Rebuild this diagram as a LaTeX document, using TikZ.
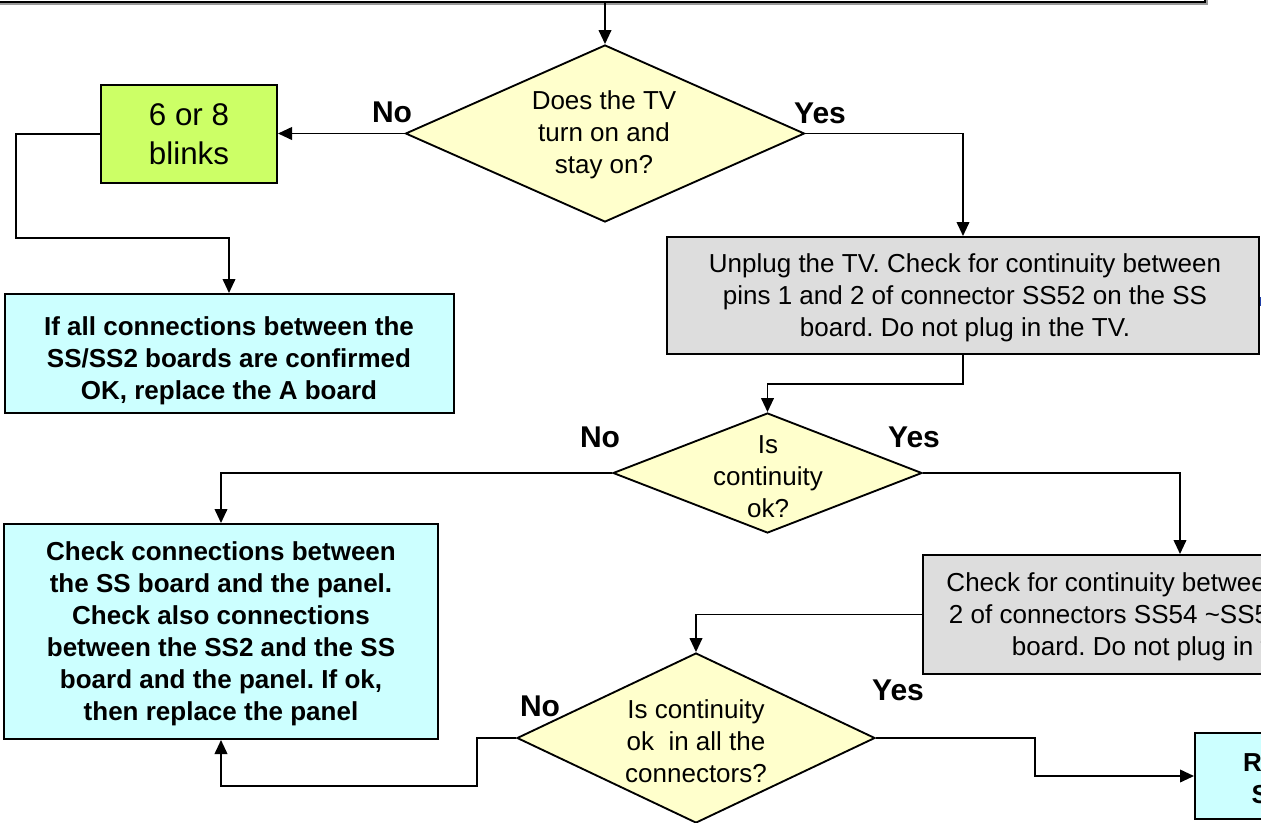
\documentclass[tikz,border=0pt]{standalone}
\usepackage{fontspec}
\setmainfont{Liberation Sans}
\usetikzlibrary{arrows.meta,shapes.geometric,calc}
\definecolor{dyellow}{HTML}{FFFFCC}
\definecolor{bgreen}{HTML}{CCFF66}
\definecolor{lblue}{HTML}{CCFFFF}
\definecolor{lgray}{HTML}{DDDDDD}
\definecolor{shgray}{HTML}{999999}
\definecolor{markblue}{HTML}{1F3FA8}
\frenchspacing
\begin{document}
\begin{tikzpicture}[x=0.75pt,y=-0.75pt,
  box/.style={draw=black, line width=1.5pt, inner sep=0pt, align=center,
              font=\fontsize{19.5}{24}\selectfont},
  boxb/.style={box, font=\fontsize{19.5}{24}\selectfont\bfseries},
  dia/.style={diamond, draw=black, line width=1.4pt, fill=dyellow, inner sep=0pt},
  txt/.style={align=center, inner sep=0pt, font=\fontsize{19.5}{24}\selectfont},
  lbl/.style={inner sep=0pt, font=\fontsize{22.5}{27}\selectfont\bfseries},
  conn/.style={line width=1.3pt},
  arr/.style={conn, -{Triangle[length=10.5pt,width=9.5pt]}}]
\useasboundingbox (0,0) rectangle (1261,822);
\clip (0,0) rectangle (1261,822);
\fill[white] (0,0) rectangle (1261,822);

% top box (cut off by the frame)
\fill[shgray] (-8,-58) rectangle (1207.5,4.5);
\node[box, fill=white, minimum width=1215*0.75pt, minimum height=62*0.75pt] (top) at (597.5,-29) {};

% decision 1
\node[dia, minimum width=399*0.75pt, minimum height=177*0.75pt] (d1) at (605,133.5) {};
\node[txt] (d1t) at (604,135) {Does the TV\\turn on and\\stay on?};
\node[lbl] (no1) at (392,112) {No};
\node[lbl] (yes1) at (820,113) {Yes};

% 6 or 8 blinks
\node[box, fill=bgreen, minimum width=176*0.75pt, minimum height=98*0.75pt,
      font=\fontsize{23.5}{29}\selectfont] (g) at (189,134) {6 or 8\\blinks};

% blue box 1
\node[boxb, fill=lblue, minimum width=449*0.75pt, minimum height=119*0.75pt] (b1) at (229,353.5) {};
\node[txt, font=\fontsize{19.5}{24}\selectfont\bfseries] (b1t) at (229,361) {If all connections between the\\SS/SS2 boards are confirmed\\OK, replace the A board};

% gray box 1
\node[box, fill=lgray, minimum width=592*0.75pt, minimum height=117*0.75pt] (gr1) at (963,295.5) {};
\node[txt] (gr1t) at (965,298) {Unplug the TV. Check for continuity between\\pins 1 and 2 of connector SS52 on the SS\\board. Do not plug in the TV.};
\fill[markblue] (1259.5,297) rectangle (1261,306);

% decision 2
\node[dia, minimum width=309*0.75pt, minimum height=120*0.75pt] (d2) at (767.5,473) {};
\node[txt] (d2t) at (768,477) {Is\\continuity\\ok?};
\node[lbl] (no2) at (600,437) {No};
\node[lbl] (yes2) at (914,437) {Yes};

% blue box 2
\node[boxb, fill=lblue, minimum width=434*0.75pt, minimum height=215*0.75pt] (b2) at (221,631.5) {};
\node[txt, font=\fontsize{19.5}{24}\selectfont\bfseries] (b2t) at (221,634) {Check connections between\\the SS board and the panel.\\Check also connections\\between the SS2 and the SS\\board and the panel. If ok,\\then replace the panel};

% gray box 2 (cut off by the frame)
\node[box, fill=lgray, minimum width=508*0.75pt, minimum height=119*0.75pt] (gr2) at (1177,614.5) {};
\node[txt] (gr2t) at (1177,617) {Check for continuity between pins 1 and\\2 of connectors SS54 \textasciitilde SS59 on the SS\\board. Do not plug in the TV.};

% decision 3
\node[dia, minimum width=358*0.75pt, minimum height=170*0.75pt] (d3) at (696,738) {};
\node[txt] (d3t) at (696,741) {Is continuity\\ok\ \ in all the\\connectors?};
\node[lbl] (no3) at (540,706) {No};
\node[lbl] (yes3) at (898,690) {Yes};

% blue box 3 (cut off by the frame)
\node[boxb, fill=lblue, minimum width=242*0.75pt, minimum height=86*0.75pt] (b3) at (1316,776) {};
\node[txt, font=\fontsize{19.5}{24}\selectfont\bfseries] (b3t) at (1316,778) {Replace the\\SS2 board};

% connectors
\draw[arr] (top.south -| d1.north) -- (d1.north);
\draw[arr] (d1.west) -- (d1.west -| g.east);
\coordinate (k1) at (16,238);
\draw[arr] (g.west) -| (k1) -| (b1.north);
\draw[arr] (d1.east) -| (gr1.north);
\draw[arr] (gr1.south) -- ++(0,29) -| (d2.north);
\draw[arr] (d2.west) -| (b2.north);
\draw[arr] (d2.east) -| ($(gr2.north)+(3,0)$);
\draw[arr] (gr2.west) -| (d3.north);
\coordinate (k2) at (477,786);
\draw[arr] (d3.west) -| (k2) -| (b2.south);
\coordinate (k3) at (1035,738);
\draw[arr] (d3.east) -- (k3) |- (b3.west);
\end{tikzpicture}
\end{document}
